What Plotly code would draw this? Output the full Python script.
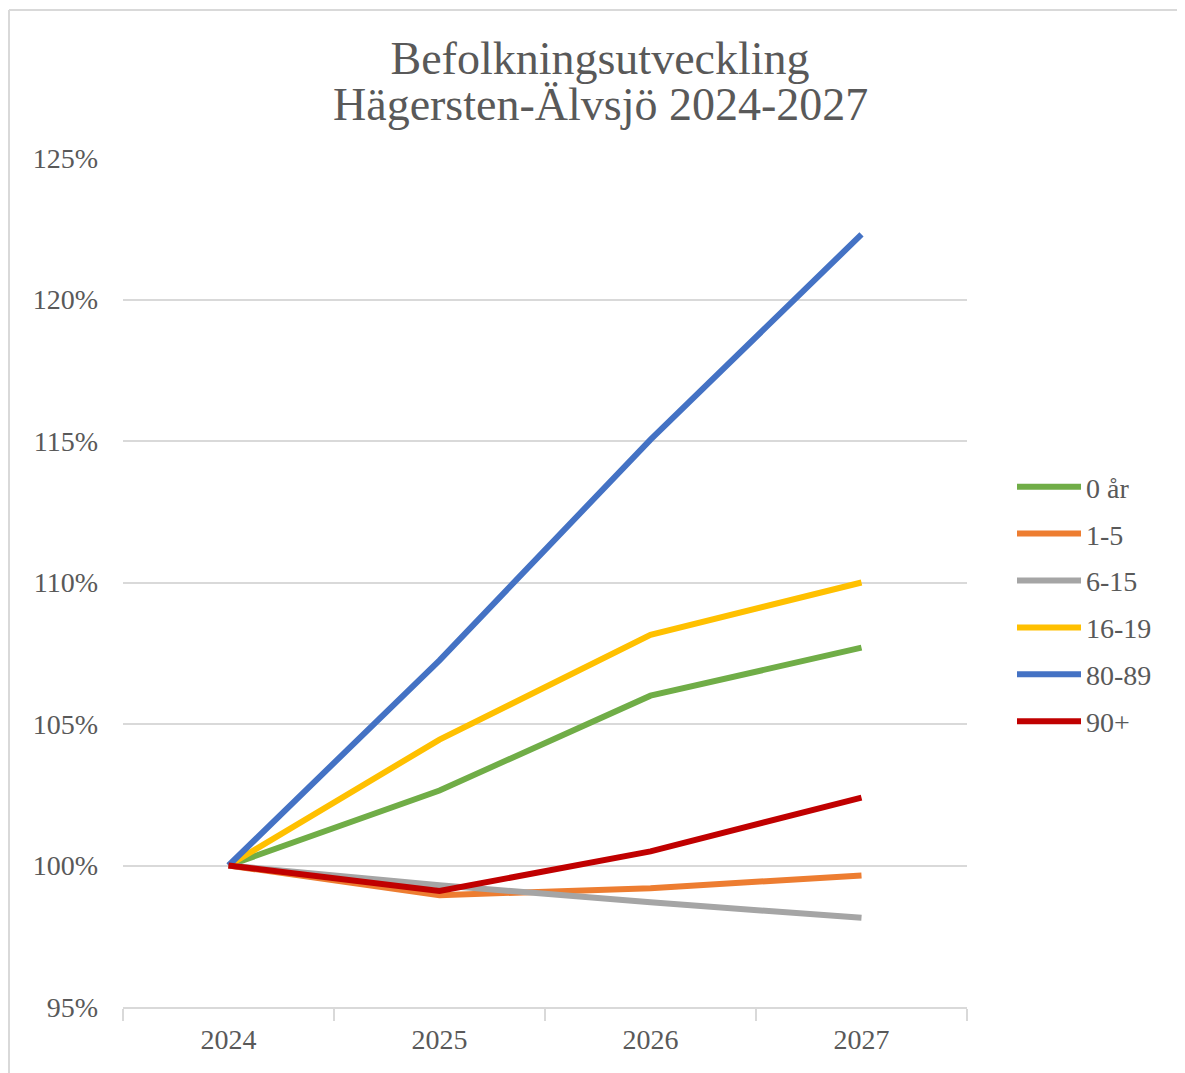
import plotly.graph_objects as go

years = ["2024", "2025", "2026", "2027"]
series_names = ["0 år", "1-5", "6-15", "16-19", "80-89", "90+"]
v_0 = [100.0, 102.65, 106.0, 107.7]
v_1_5 = [100.0, 98.95, 99.2, 99.65]
v_6_15 = [100.0, 99.3, 98.7, 98.15]
v_16_19 = [100.0, 104.45, 108.15, 110.0]
v_80_89 = [100.0, 107.25, 115.05, 122.3]
v_90 = [100.0, 99.1, 100.5, 102.4]
values = [v_0, v_1_5, v_6_15, v_16_19, v_80_89, v_90]
colors = ["#70AD47", "#ED7D31", "#A5A5A5", "#FFC000", "#4472C4", "#C00000"]
y_ticks = [95, 100, 105, 110, 115, 120, 125]
y_tick_labels = ["95%", "100%", "105%", "110%", "115%", "120%", "125%"]
title_line1 = "Befolkningsutveckling"
title_line2 = "Hägersten-Älvsjö 2024-2027"

OFF = 8  # page body margin offset
W, H = 1185, 1073
ml, mr, mt, mb = 123 - OFF, 218 + OFF, 158 - OFF, 66 + OFF
pw, ph = W - ml - mr, H - mt - mb

fig = go.Figure()
for name, vals, c in zip(series_names, values, colors):
    fig.add_trace(go.Scatter(x=years, y=vals, name=name, mode="lines", legendgroup=name,
                             line=dict(color=c, width=6)))

font_family = "Liberation Serif, Times New Roman, serif"
fig.update_layout(
    width=W, height=H,
    margin=dict(l=ml, r=mr, t=mt, b=mb),
    paper_bgcolor="white", plot_bgcolor="white",
    font=dict(family=font_family, color="#595959", size=28),
    title=dict(text=title_line1,
               x=(600 - OFF) / W, xanchor="center", y=1 - (58 - OFF) / H, yanchor="middle",
               font=dict(family=font_family, size=46, color="#595959")),
    annotations=[dict(text=title_line2, xref="paper", yref="paper",
                      x=(600 - OFF - ml) / pw, xanchor="center",
                      y=1 + (mt - (104 - OFF)) / ph, yanchor="middle", showarrow=False,
                      font=dict(family=font_family, size=46, color="#595959"))],
    showlegend=True,
    legend=dict(x=(1012 - OFF - ml) / pw, xanchor="left", y=1 - (462 - OFF - mt) / ph, yanchor="top",
                font=dict(family=font_family, size=28, color="#595959"),
                tracegroupgap=7.5, itemwidth=64, bgcolor="rgba(0,0,0,0)"),
    xaxis=dict(type="category", range=[-0.5, 3.5], showgrid=False,
               showline=True, linecolor="#D9D9D9", linewidth=2,
               ticks="outside", tickson="boundaries", ticklen=12, tickcolor="#D9D9D9",
               tickwidth=2, tickfont=dict(size=28), ticklabelstandoff=6, fixedrange=True),
    yaxis=dict(range=[95, 125], tickvals=y_ticks, ticktext=y_tick_labels,
               showgrid=True, gridcolor="#D9D9D9", gridwidth=2, zeroline=False,
               showline=False, ticks="", ticklabelstandoff=24, tickfont=dict(size=28)),
    shapes=[
        dict(type="line", xref="paper", yref="paper",
             x0=(1 - ml) / pw, x1=(W + 10 - ml) / pw,
             y0=1 + (mt - (10 - OFF)) / ph, y1=1 + (mt - (10 - OFF)) / ph,
             line=dict(color="#D9D9D9", width=2)),
        dict(type="line", xref="paper", yref="paper",
             x0=(1 - ml) / pw, x1=(1 - ml) / pw,
             y0=1 + (mt - (10 - OFF)) / ph, y1=-(mb + 10) / ph,
             line=dict(color="#D9D9D9", width=2)),
    ],
)

fig.write_html("out.html")
